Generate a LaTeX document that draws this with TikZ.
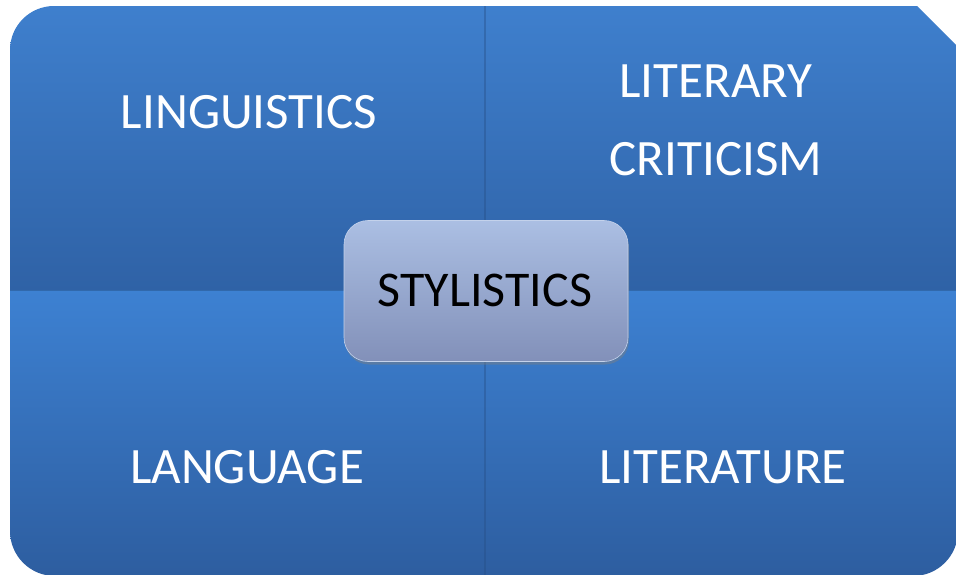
\documentclass[tikz,border=0pt]{standalone}
\usepackage{fontspec}
\setmainfont{Carlito}
\usetikzlibrary{shadows}

\definecolor{upperTop}{HTML}{3F80CE}
\definecolor{upperBot}{HTML}{2F62A6}
\definecolor{lowerTop}{HTML}{3D81D2}
\definecolor{lowerBot}{HTML}{2D5D9F}
\definecolor{hubTop}{HTML}{ABBFE3}
\definecolor{hubBot}{HTML}{8290B9}

\tikzset{
  quadlabel/.style={text=white, anchor=base, align=center,
    font=\fontsize{51}{78}\selectfont},
  hubbox/.style={rounded corners=24, top color=hubTop, bottom color=hubBot,
    draw=hubTop!70!white, line width=0.6,
    drop shadow={shadow xshift=1pt, shadow yshift=-3pt, opacity=0.45}},
}

\begin{document}
\begin{tikzpicture}[x=1pt,y=-1pt]
			%%%%% START %%%%%
			\useasboundingbox (0,0) rectangle (956,574);
			
			\begin{scope}
			\clip (0,0) rectangle (956,574);
			% outer outline: three round corners, one cut corner
			\clip (10,50) arc (180:270:44) -- (917,6) -- (958,47) -- (958,531)
			      arc (0:90:45) -- (55,576) arc (90:180:45) -- cycle;
			
			% upper pair
			\shade[top color=upperTop, bottom color=upperBot] (0,0) rectangle (960,290);
			% lower pair
			\shade[top color=lowerTop, bottom color=lowerBot] (0,290) rectangle (960,580);
			
			% seams
			\draw[line width=2.5, color=upperBot!80!black, opacity=0.4] (485,0) -- (485,580);
			\draw[line width=1, color=upperBot!70!black, opacity=0.4] (0,290) -- (960,290);
			\end{scope}
			
			\node[quadlabel] (linguistics) at (249,128) {LINGUISTICS};
			\node[quadlabel] (literary) at (716,175) {LITERARY\\CRITICISM};
			\node[quadlabel] (language) at (247,483) {LANGUAGE};
			\node[quadlabel] (literature) at (723,483) {LITERATURE};
			
			\node[hubbox, minimum width=284, minimum height=141] (hub) at (486,291) {};
			\node[anchor=base, font=\fontsize{50}{60}\selectfont] (stylistics) at (485,306) {STYLISTICS};
			%%%%% END %%%%%
\end{tikzpicture}
\end{document}
